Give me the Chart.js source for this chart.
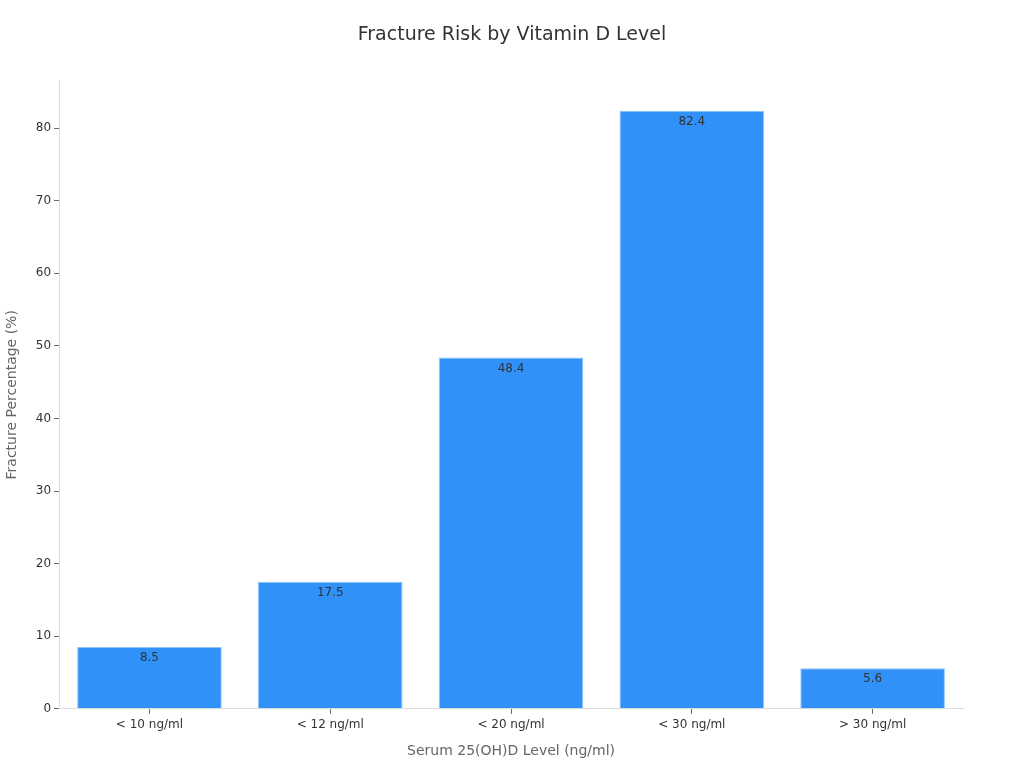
<!DOCTYPE html>
<html>
<head>
<meta charset="utf-8">
<script src="https://cdn.jsdelivr.net/npm/chart.js@4"></script>
<style>
html,body{margin:0;padding:0;background:#fff;}
#wrap{width:1024px;height:768px;}
</style>
</head>
<body>
<div id="wrap"><canvas id="c" width="1024" height="768"></canvas></div>
<script>
const categories = ["< 10 ng/ml", "< 12 ng/ml", "< 20 ng/ml", "< 30 ng/ml", "> 30 ng/ml"];
const fractureValues = [8.5, 17.5, 48.4, 82.4, 5.6];
const titleText = "Fracture Risk by Vitamin D Level";
const xTitle = "Serum 25(OH)D Level (ng/ml)";
const yTitle = "Fracture Percentage (%)";

const valueLabels = {
  id: 'valueLabels',
  afterDatasetsDraw(chart) {
    const ctx = chart.ctx;
    const meta = chart.getDatasetMeta(0);
    ctx.save();
    ctx.font = '12px "DejaVu Sans"';
    ctx.fillStyle = '#333';
    ctx.textAlign = 'center';
    ctx.textBaseline = 'top';
    meta.data.forEach((bar, i) => {
      ctx.fillText(String(chart.data.datasets[0].data[i]), bar.x, bar.y + 5);
    });
    ctx.restore();
  }
};

Chart.defaults.font.family = '"DejaVu Sans", sans-serif';
new Chart(document.getElementById('c'), {
  type: 'bar',
  data: {
    labels: categories,
    datasets: [{
      data: fractureValues,
      backgroundColor: '#3091f8',
      borderColor: '#90c6fb',
      borderWidth: 1,
      barPercentage: 0.8,
      categoryPercentage: 1.0
    }]
  },
  options: {
    responsive: false,
    animation: false,
    layout: { padding: { left: 0, right: 0, top: 0, bottom: 4 } },
    plugins: {
      legend: { display: false },
      tooltip: { enabled: false },
      title: {
        display: true, text: titleText, color: '#333',
        font: { size: 19, weight: 'normal' },
        padding: { top: 24, bottom: 34 }
      }
    },
    scales: {
      x: {
        grid: { display: true, offset: false, drawOnChartArea: false, drawTicks: true, tickLength: 5, color: '#666' },
        border: { color: '#ddd' },
        ticks: { color: '#333', font: { size: 12 }, padding: 4 },
        title: { display: true, text: xTitle, color: '#666', font: { size: 14 }, padding: { top: 7 } }
      },
      y: {
        min: 0, max: 86.52,
        grid: { display: true, drawOnChartArea: false, drawTicks: true, tickLength: 5, color: '#666' },
        border: { color: '#ddd' },
        afterBuildTicks: (s) => { s.ticks = s.ticks.filter(t => Math.abs(t.value % 10) < 1e-9); },
        ticks: { color: '#333', font: { size: 12 }, stepSize: 10, padding: 3 },
        title: { display: true, text: yTitle, color: '#666', font: { size: 14 }, padding: { bottom: 12 } }
      },
      yRight: {
        position: 'right',
        display: true,
        grid: { display: false },
        border: { display: false },
        ticks: { display: false },
        afterFit: (s) => { s.width = 61; }
      }
    }
  },
  plugins: [valueLabels]
});
</script>
</body>
</html>
